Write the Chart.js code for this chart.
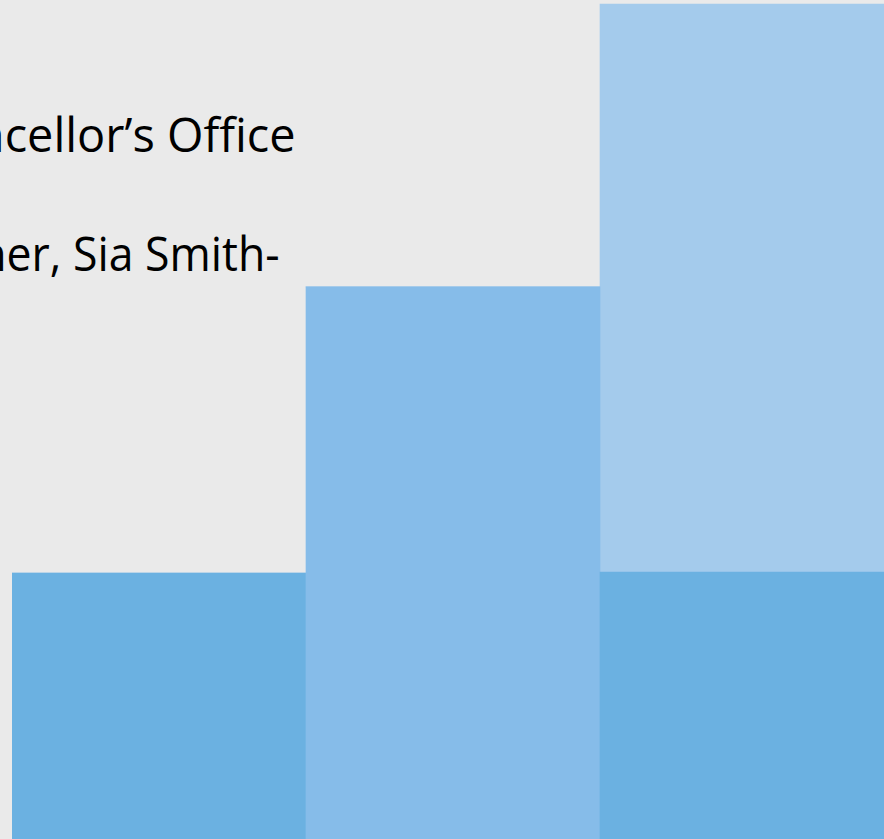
<!DOCTYPE html>
<html>
<head>
<meta charset="utf-8">
<script src="https://cdn.jsdelivr.net/npm/chart.js@4/dist/chart.umd.min.js"></script>
<style>
	html, body { margin: 0; padding: 0; }
	body {
		width: 884px; height: 839px; overflow: hidden; position: relative;
		background: #eaeaea;
	}
	.line {
		position: absolute; white-space: nowrap; color: #000;
		font-family: "Open Sans", sans-serif; font-size: 48px; line-height: 1;
		transform-origin: right top;
	}
	#chartWrap { position: absolute; left: 12px; top: 0; width: 882px; height: 839px; }
</style>
</head>
<body>
<div class="line" id="line1">Chancellor’s Office</div>
<div class="line" id="line2">Partner, Sia Smith-</div>
<div id="chartWrap"><canvas id="chart" width="882" height="839"></canvas></div>
<script>
// chart data
const categories = ["A", "B", "C"];
const baseValues = [31.7, 65.8, 31.8];
const topValues = [0, 0, 67.7];
const baseColors = ["#6bb1e1", "#86bce9", "#6bb1e1"];
const topColor = "#a4cbec";

// text lines: visible part, right edge, baseline
const textLines = [
	{ id: "line1", visible: "cellor’s Office", right: 296, width: 291, baseline: 149 },
	{ id: "line2", visible: "er, Sia Smith-", right: 280, width: 273, baseline: 268 }
];

const measure = document.createElement("canvas").getContext("2d");
measure.font = '48px "Open Sans"';
textLines.forEach((t) => {
	const el = document.getElementById(t.id);
	const w = measure.measureText(t.visible).width;
	const sx = t.width / w;
	const full = el.getBoundingClientRect().width;
	el.style.left = (t.right - full) + "px";
	// baseline of Open Sans at line-height 1 sits about 0.82em from the top
	el.style.top = (t.baseline - 48 * 0.82) + "px";
	el.style.transform = "scaleX(" + sx.toFixed(3) + ")";
});

new Chart(document.getElementById("chart"), {
	type: "bar",
	data: {
		labels: categories,
		datasets: [
			{ data: baseValues, backgroundColor: baseColors, borderWidth: 0 },
			{ data: topValues, backgroundColor: topColor, borderWidth: 0 }
		]
	},
	options: {
		responsive: false,
		animation: false,
		layout: { padding: 0 },
		datasets: { bar: { barPercentage: 1, categoryPercentage: 1 } },
		plugins: { legend: { display: false }, tooltip: { enabled: false } },
		scales: {
			x: { stacked: true, display: false },
			y: { stacked: true, display: false, min: 0, max: 100 }
		}
	}
});
</script>
</body>
</html>
